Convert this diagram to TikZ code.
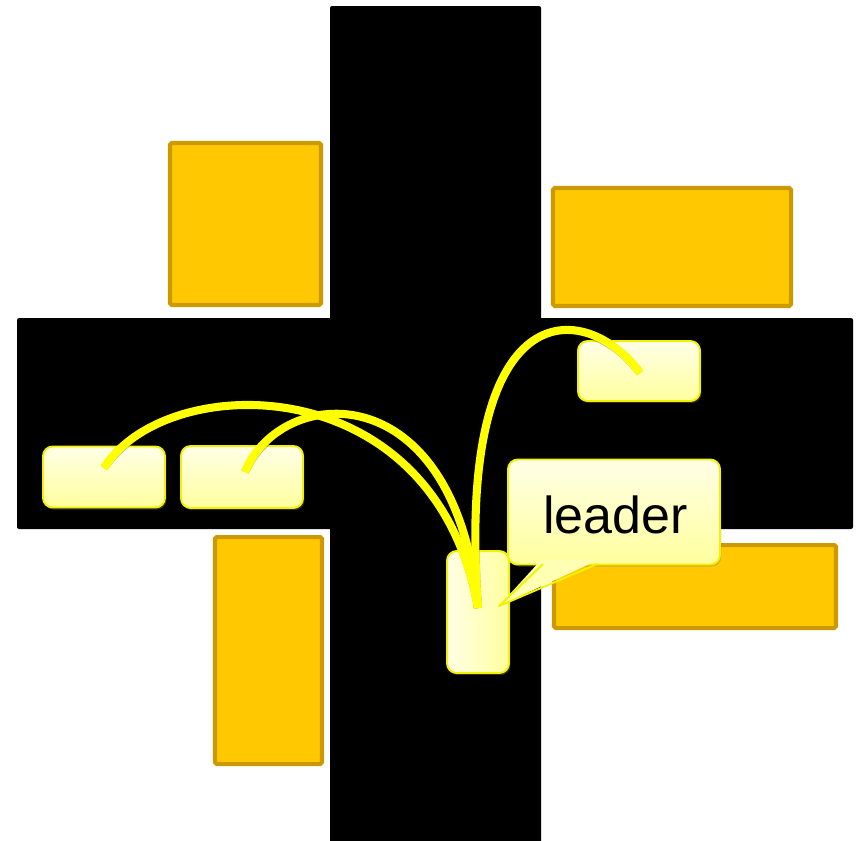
\documentclass[tikz,border=0pt]{standalone}
\usepackage{fontspec}
\newfontfamily\labfont{Liberation Sans}
\usetikzlibrary{shadows}
\definecolor{orfill}{HTML}{FFC800}
\definecolor{orline}{HTML}{CC9900}
\definecolor{lytop}{HTML}{FFFFE6}
\definecolor{lybot}{HTML}{FFFF9E}
\definecolor{lyline}{HTML}{F2F200}
\definecolor{curvecol}{HTML}{FFFF00}
\tikzset{
  blockbar/.style={fill=black, rounded corners=1.2pt},
  orbox/.style={fill=orfill, draw=orline, line width=2.3pt, rounded corners=1pt},
  lybox/.style={draw=lyline, line width=1.1pt, rounded corners=5.5pt, top color=lytop, bottom color=lybot,
     inner sep=0pt, drop shadow={shadow xshift=0.8pt, shadow yshift=-1.2pt, opacity=0.35}},
  lyvbox/.style={draw=lyline, line width=1.1pt, rounded corners=5.5pt, left color=lytop, right color=lybot,
     inner sep=0pt, drop shadow={shadow xshift=0.8pt, shadow yshift=-1.2pt, opacity=0.35}},
  linkshadow/.style={line width=4.6pt, draw=black, opacity=0.3},
  link/.style={line width=4.6pt, draw=curvecol},
}
\begin{document}
\begin{tikzpicture}[x=0.02cm, y=-0.02cm]
\useasboundingbox (0,0) rectangle (857,840);
% black cross
\fill[blockbar] (330,6) rectangle (541,845);
\fill[blockbar] (17,318) rectangle (853,529);
% orange boxes
\draw[orbox] (170,143) rectangle (321,305);
\draw[orbox] (553,188) rectangle (791,306);
\draw[orbox] (215,537) rectangle (322,764);
\draw[orbox] (554,545) rectangle (836,628);
% light yellow nodes
\node[lybox, minimum width=2.44cm, minimum height=1.22cm] (A) at (104,477) {};
\node[lybox, minimum width=2.44cm, minimum height=1.24cm] (B) at (242,477) {};
\node[lybox, minimum width=2.44cm, minimum height=1.2cm] (C) at (639,371) {};
\node[lyvbox, minimum width=1.24cm, minimum height=2.44cm] (D) at (478,612) {};
% connector end points
\coordinate (a1) at (104,468);
\coordinate (b1) at (245,472);
\coordinate (c1) at (640,373);
\coordinate (d1) at (478,608);
% shadows of links
\begin{scope}[shift={(1.5,2.5)}]
\draw[linkshadow] (a1) .. controls (165,370) and (435,365) .. (d1);
\draw[linkshadow] (b1) .. controls (280,385) and (455,370) .. (d1);
\draw[linkshadow] (d1) .. controls (455,290) and (585,298) .. (c1);
\end{scope}
% links
\draw[link] (a1) .. controls (165,370) and (435,365) .. (d1);
\draw[link] (b1) .. controls (280,385) and (455,370) .. (d1);
\draw[link] (d1) .. controls (455,290) and (585,298) .. (c1);
% callout
\node[lybox, minimum width=4.24cm, minimum height=2.1cm] (L) at (614,512) {};
\coordinate (ptip) at (499,606);
\fill[color=lybot!70!lytop] (541,560) -- (ptip) -- (598,560) -- cycle;
\draw[lyline, line width=1.1pt, line join=round] (543,564) -- (ptip) -- (597,564);
\node[anchor=base, inner sep=0pt] (Lt) at (615.5,533) {\labfont\fontsize{29.6}{32}\selectfont leader};
\end{tikzpicture}
\end{document}
